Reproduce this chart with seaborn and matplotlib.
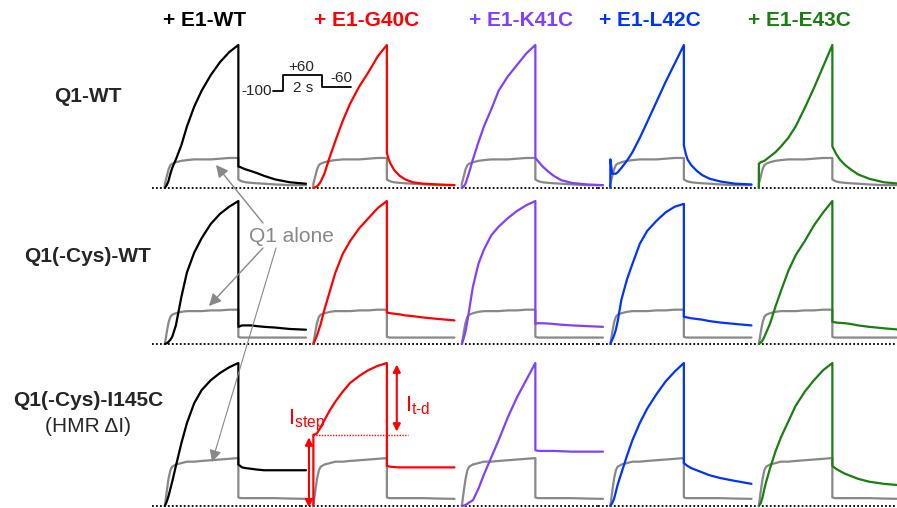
import numpy as np
import matplotlib
matplotlib.use("Agg")
import matplotlib.pyplot as plt
import seaborn as sns

# ====== data (current normalised to the peak at the end of the +60 mV step) ======
# time in s: step starts at 0, lasts 2 s, then tail at -60 mV
TIME = [0,
        0, 0.05, 0.1, 0.15, 0.2, 0.3, 0.45, 0.6, 0.8, 1.0, 1.25, 1.5, 1.75, 2.0,
        2.0, 2.05, 2.1, 2.2, 2.35, 2.5, 2.7, 3.0, 3.4, 3.84]

columns = ["+ E1-WT", "+ E1-G40C", "+ E1-K41C", "+ E1-L42C", "+ E1-E43C"]
col_colors = ["#000000", "#ff0000", "#8040ff", "#0033ff", "#1a7f10"]
rows = ["Q1-WT", "Q1(-Cys)-WT", "Q1(-Cys)-I145C"]

# row 1: Q1-WT
q1wt_alone = [0, 0.03, 0.08, 0.13, 0.16, 0.17, 0.18, 0.19, 0.195, 0.2, 0.2, 0.2, 0.205, 0.21, 0.21,
              0.06, 0.052, 0.046, 0.04, 0.036, 0.033, 0.03, 0.025, 0.02, 0.02]
q1wt_wt = [0, 0, 0.02, 0.05, 0.1, 0.14, 0.2, 0.3, 0.43, 0.57, 0.68, 0.79, 0.88, 0.95, 1.0,
           0.15, 0.147, 0.14, 0.13, 0.118, 0.105, 0.085, 0.06, 0.04, 0.03]
q1wt_g40c = [0, 0, 0.005, 0.012, 0.025, 0.045, 0.1, 0.22, 0.33, 0.47, 0.59, 0.71, 0.81, 0.92, 1.0,
             0.245, 0.2, 0.17, 0.125, 0.085, 0.06, 0.04, 0.03, 0.025, 0.02]
q1wt_k41c = [0, 0, 0.01, 0.03, 0.07, 0.11, 0.2, 0.32, 0.43, 0.55, 0.68, 0.78, 0.86, 0.94, 1.0,
             0.21, 0.195, 0.18, 0.15, 0.115, 0.085, 0.055, 0.035, 0.025, 0.02]
q1wt_l42c = [0, 0.2, 0.1, 0.1, 0.1, 0.11, 0.14, 0.19, 0.25, 0.35, 0.46, 0.6, 0.74, 0.87, 1.0,
             0.3, 0.24, 0.2, 0.16, 0.12, 0.09, 0.065, 0.045, 0.03, 0.025]
q1wt_e43c = [0, 0.17, 0.18, 0.185, 0.19, 0.2, 0.22, 0.25, 0.29, 0.35, 0.43, 0.56, 0.7, 0.85, 1.0,
             0.29, 0.265, 0.24, 0.2, 0.16, 0.13, 0.095, 0.065, 0.04, 0.03]

# row 2: Q1(-Cys)-WT
q1cys_alone = [0, 0, 0.08, 0.15, 0.19, 0.205, 0.215, 0.225, 0.23, 0.23, 0.23, 0.235, 0.235, 0.24, 0.24,
               0.05, 0.046, 0.045, 0.045, 0.045, 0.045, 0.045, 0.045, 0.045, 0.045]
q1cys_wt = [0, 0, 0.005, 0.015, 0.03, 0.05, 0.13, 0.33, 0.5, 0.64, 0.74, 0.84, 0.91, 0.96, 1.0,
            0.12, 0.125, 0.13, 0.13, 0.13, 0.125, 0.12, 0.115, 0.105, 0.1]
q1cys_g40c = [0, 0, 0.03, 0.06, 0.1, 0.14, 0.24, 0.37, 0.5, 0.63, 0.72, 0.81, 0.88, 0.95, 1.0,
              0.22, 0.218, 0.215, 0.212, 0.207, 0.2, 0.195, 0.185, 0.175, 0.165]
q1cys_k41c = [0, 0, 0.04, 0.09, 0.16, 0.24, 0.4, 0.56, 0.66, 0.76, 0.82, 0.88, 0.93, 0.97, 1.0,
              0.14, 0.145, 0.145, 0.145, 0.143, 0.14, 0.135, 0.13, 0.125, 0.12]
q1cys_l42c = [0, 0, 0.03, 0.06, 0.1, 0.16, 0.31, 0.45, 0.56, 0.7, 0.79, 0.86, 0.92, 0.96, 0.98,
              0.19, 0.188, 0.185, 0.18, 0.175, 0.17, 0.16, 0.15, 0.14, 0.13]
q1cys_e43c = [0, 0, 0.01, 0.025, 0.05, 0.08, 0.14, 0.26, 0.37, 0.51, 0.62, 0.72, 0.83, 0.92, 1.0,
              0.155, 0.153, 0.15, 0.148, 0.145, 0.14, 0.13, 0.12, 0.11, 0.1]

# row 3: Q1(-Cys)-I145C
i145c_alone = [0, 0, 0.1, 0.19, 0.25, 0.275, 0.29, 0.3, 0.31, 0.31, 0.315, 0.32, 0.325, 0.33, 0.335,
               0.06, 0.056, 0.055, 0.055, 0.055, 0.055, 0.055, 0.055, 0.052, 0.05]
i145c_wt = [0, 0, 0.03, 0.07, 0.12, 0.17, 0.28, 0.44, 0.58, 0.72, 0.81, 0.88, 0.93, 0.97, 1.0,
            0.29, 0.28, 0.27, 0.265, 0.26, 0.255, 0.25, 0.25, 0.25, 0.25]
i145c_g40c = [0, 0.5, 0.5, 0.51, 0.53, 0.55, 0.6, 0.67, 0.73, 0.8, 0.86, 0.91, 0.95, 0.98, 1.0,
              0.28, 0.277, 0.275, 0.272, 0.27, 0.27, 0.27, 0.27, 0.27, 0.27]
i145c_k41c = [0, 0, 0.003, 0.007, 0.015, 0.025, 0.04, 0.12, 0.22, 0.34, 0.46, 0.62, 0.76, 0.88, 1.0,
              0.39, 0.387, 0.385, 0.385, 0.385, 0.385, 0.383, 0.38, 0.38, 0.38]
i145c_l42c = [0, 0, 0.02, 0.05, 0.1, 0.15, 0.23, 0.35, 0.46, 0.58, 0.68, 0.78, 0.87, 0.94, 1.0,
              0.3, 0.29, 0.28, 0.265, 0.25, 0.235, 0.215, 0.195, 0.175, 0.155]
i145c_e43c = [0, 0, 0.02, 0.06, 0.12, 0.17, 0.26, 0.38, 0.48, 0.59, 0.7, 0.8, 0.88, 0.95, 1.0,
              0.28, 0.27, 0.26, 0.245, 0.225, 0.21, 0.19, 0.17, 0.155, 0.145]

alone_traces = [q1wt_alone, q1cys_alone, i145c_alone]
traces = [
    [q1wt_wt, q1wt_g40c, q1wt_k41c, q1wt_l42c, q1wt_e43c],
    [q1cys_wt, q1cys_g40c, q1cys_k41c, q1cys_l42c, q1cys_e43c],
    [i145c_wt, i145c_g40c, i145c_k41c, i145c_l42c, i145c_e43c],
]

# voltage protocol (schematic)
PROTOCOL_T = [-0.5, 0, 0, 2, 2, 3.5]
PROTOCOL_MV = [-100, -100, 60, 60, -60, -60]

# I_step / I_t-d levels in the G40C panel of row 3
I_STEP = 0.5
I_PEAK = 1.0

# ====== figure ======
sns.set_theme(style="white")
plt.rcParams["font.family"] = ["Liberation Sans", "DejaVu Sans"]
plt.rcParams["mathtext.fontset"] = "custom"
plt.rcParams["mathtext.rm"] = "Liberation Sans"
plt.rcParams["mathtext.it"] = "Liberation Sans"

W, H = 897, 508
fig = plt.figure(figsize=(W / 100, H / 100), dpi=100)
fig.patch.set_facecolor("white")

GRAY = "#888888"
PX_PER_S = 36.75
PX_PER_UNIT = 143
X0, COL_W = 152, 148.5
BASELINES = [188, 344, 506]
XLIM = (-0.35, -0.35 + COL_W / PX_PER_S)
YLIM = (-0.03, 1.05)

axes = {}
for r, base in enumerate(BASELINES):
    for c in range(5):
        left = X0 + c * COL_W
        bottom = H - base - (-YLIM[0]) * PX_PER_UNIT
        height = (YLIM[1] - YLIM[0]) * PX_PER_UNIT
        ax = fig.add_axes([left / W, bottom / H, COL_W / W, height / H])
        ax.set_xlim(*XLIM)
        ax.set_ylim(*YLIM)
        ax.axis("off")
        ax.axhline(0, color="black", lw=1.3, ls=(0, (1, 1.2)), zorder=1)
        sns.lineplot(x=TIME, y=alone_traces[r], ax=ax, color=GRAY, lw=1.6,
                     estimator=None, sort=False, legend=False, zorder=2)
        sns.lineplot(x=TIME, y=traces[r][c], ax=ax, color=col_colors[c], lw=1.6,
                     estimator=None, sort=False, legend=False, zorder=3)
        for line in ax.lines:
            line.set_clip_on(False)
            line.set_solid_joinstyle("round")
        axes[(r, c)] = ax

# column titles
title_x = [205, 367, 521, 650, 799]
for c in range(5):
    fig.text(title_x[c] / W, 1 - 20 / H, columns[c], color=col_colors[c],
             fontsize=15, fontweight="bold", ha="center", va="center")

# row labels
row_y = [96, 257, 400]
for r in range(3):
    fig.text(88 / W, 1 - row_y[r] / H, rows[r], fontsize=15, fontweight="bold",
             ha="center", va="center")
fig.text(88 / W, 1 - 427 / H, "(HMR \u0394I)", fontsize=15, ha="center", va="center")

# voltage protocol inset
pax = fig.add_axes([273 / W, (H - 91) / H, 78 / W, 16 / H])
pax.set_xlim(-0.5, 3.5)
pax.set_ylim(-100, 60)
pax.axis("off")
sns.lineplot(x=PROTOCOL_T, y=PROTOCOL_MV, ax=pax, color="black", lw=1.3,
             estimator=None, sort=False, legend=False)
pax.lines[0].set_clip_on(False)
pax.text(-0.55, -100, "-100", fontsize=11, ha="right", va="center")
pax.text(0.97, 140, "+60", fontsize=11, ha="center", va="center")
pax.text(1.03, -70, "2 s", fontsize=11, ha="center", va="center")
pax.text(3.03, 30, "-60", fontsize=11, ha="center", va="center")

# overlay for the "Q1 alone" label and arrows (pixel coordinates)
ov = fig.add_axes([0, 0, 1, 1], facecolor="none")
ov.set_xlim(0, W)
ov.set_ylim(H, 0)
ov.axis("off")
ov.text(291, 236, "Q1 alone", color=GRAY, fontsize=15, ha="center", va="center")
arrow_kw = dict(arrowstyle="-|>", color=GRAY, lw=1.0, mutation_scale=18,
                shrinkA=0, shrinkB=0)
ov.annotate("", xy=(216, 165), xytext=(263, 223), arrowprops=arrow_kw)
ov.annotate("", xy=(209, 306), xytext=(263, 248), arrowprops=arrow_kw)
ov.annotate("", xy=(212, 462), xytext=(276, 248),
            arrowprops=dict(arrow_kw, lw=0.8))

# I_step / I_t-d annotation
ax = axes[(2, 1)]
red = "#ff0000"
ax.annotate("", xy=(-0.12, -0.01), xytext=(-0.12, I_STEP - 0.02),
            arrowprops=dict(arrowstyle="<|-|>", color=red, lw=1.5,
                            mutation_scale=11, shrinkA=0, shrinkB=0),
            annotation_clip=False)
ax.annotate("", xy=(2.27, I_STEP + 0.02), xytext=(2.27, I_PEAK - 0.01),
            arrowprops=dict(arrowstyle="<|-|>", color=red, lw=1.5,
                            mutation_scale=11, shrinkA=0, shrinkB=0),
            annotation_clip=False)
ax.plot([0, 2.57], [I_STEP, I_STEP], color=red, lw=1.0, ls=(0, (1, 1)),
        clip_on=False, zorder=4)
ax.text(-0.7, 0.6, r"$\mathrm{I}_{\mathrm{step}}$", color=red, fontsize=16,
        ha="left", va="center")
ax.text(2.5, 0.7, r"$\mathrm{I}_{\mathrm{t\text{-}d}}$", color=red, fontsize=16,
        ha="left", va="center")

fig.savefig("out.png", dpi=100, facecolor="white")
